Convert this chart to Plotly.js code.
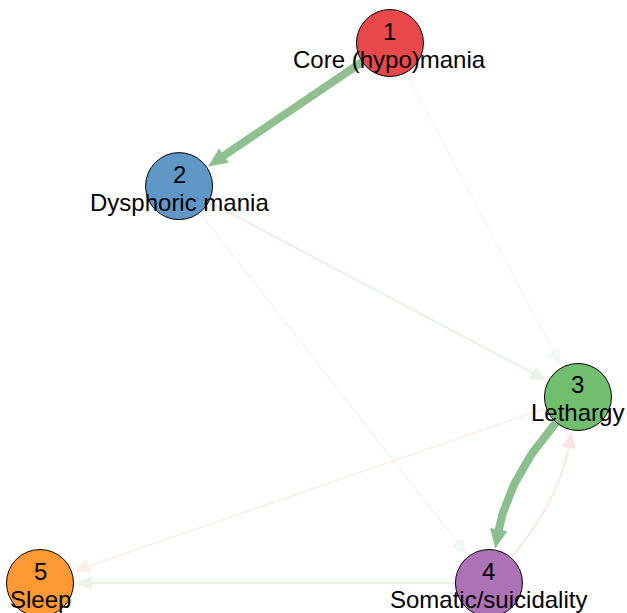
<!DOCTYPE html>
<html>
<head>
<meta charset="utf-8">
<script src="https://cdn.plot.ly/plotly-3.0.1.min.js"></script>
<style>
html,body{margin:0;padding:0;background:#fff;}
#chart{width:627px;height:613px;}
</style>
</head>
<body>
<div id="chart"></div>
<script>
// ---- data ----
const nodeIds = [1, 2, 3, 4, 5];
const nodeLabels = ["Core (hypo)mania", "Dysphoric mania", "Lethargy", "Somatic/suicidality", "Sleep"];
const nodeX = [0.301, -0.483, 1.000, 0.669, -1.000];
const nodeY = [1.000, 0.470, -0.311, -1.000, -1.000];
const nodeColors = ["#E9484A", "#5F98C6", "#71BF6E", "#AD71B5", "#FF9933"];

const edgeFrom   = [1, 1, 2, 2, 3, 3, 4, 4];
const edgeTo     = [2, 3, 3, 4, 4, 5, 3, 5];
const edgeWeight = [0.80, 0.09, 0.16, 0.10, 0.82, -0.10, -0.14, 0.15];

// ---- geometry helpers ----
const W = 627, H = 613;
const xRange = [-1.1487, 1.1822];
const yRange = [-1.1111, 1.1593];
const toPx = (x, y) => [(x - xRange[0]) / (xRange[1] - xRange[0]) * W,
                        (yRange[1] - y) / (yRange[1] - yRange[0]) * H];
const fromPx = (px, py) => [xRange[0] + px / W * (xRange[1] - xRange[0]),
                            yRange[1] - py / H * (yRange[1] - yRange[0])];

const nodeR = 34;          // px
const maxW = Math.max(...edgeWeight.map(Math.abs));
const posBase = [141, 190, 141], negBase = [230, 105, 60];

function edgeColor(w) {
  const a = Math.min(1, Math.abs(w) / maxW);
  const b = w >= 0 ? posBase : negBase;
  const c = b.map(v => Math.round(255 - a * (255 - v)));
  return `rgb(${c[0]},${c[1]},${c[2]})`;
}

const traces = [];
edgeFrom.forEach((f, i) => {
  const t = edgeTo[i], w = edgeWeight[i];
  const si = nodeIds.indexOf(f), ti = nodeIds.indexOf(t);
  const S = toPx(nodeX[si], nodeY[si]), T = toPx(nodeX[ti], nodeY[ti]);
  const hasReverse = edgeFrom.some((ff, j) => ff === t && edgeTo[j] === f);
  const dx = T[0] - S[0], dy = T[1] - S[1], L = Math.hypot(dx, dy);
  const curve = hasReverse ? 28 : 0;
  const C = [(S[0] + T[0]) / 2 - curve * dy / L, (S[1] + T[1]) / 2 + curve * dx / L];
  const u0 = [C[0] - S[0], C[1] - S[1]], l0 = Math.hypot(...u0);
  const u1 = [C[0] - T[0], C[1] - T[1]], l1 = Math.hypot(...u1);
  const P0 = [S[0] + u0[0] / l0 * nodeR, S[1] + u0[1] / l0 * nodeR];
  const tip = [T[0] + u1[0] / l1 * (nodeR + 1), T[1] + u1[1] / l1 * (nodeR + 1)];
  const col = edgeColor(w);
  const lw = 0.6 + 9.2 * Math.abs(w);
  const arrowLen = 16 + 0.4 * lw;
  const hw = 6.3 + 0.3 * lw;
  const dir = [tip[0] - C[0], tip[1] - C[1]], ld = Math.hypot(...dir);
  const ux = dir[0] / ld, uy = dir[1] / ld;
  const base = [tip[0] - ux * arrowLen, tip[1] - uy * arrowLen];
  const P2 = [base[0] + ux * 2, base[1] + uy * 2];
  const Cm = hasReverse ? C : [(P0[0] + P2[0]) / 2, (P0[1] + P2[1]) / 2];
  const xs = [], ys = [];
  const n = hasReverse ? 40 : 2;
  for (let k = 0; k <= n; k++) {
    const s = k / n;
    const px = (1 - s) * (1 - s) * P0[0] + 2 * (1 - s) * s * Cm[0] + s * s * P2[0];
    const py = (1 - s) * (1 - s) * P0[1] + 2 * (1 - s) * s * Cm[1] + s * s * P2[1];
    const d = fromPx(px, py); xs.push(d[0]); ys.push(d[1]);
  }
  traces.push({type: 'scatter', mode: 'lines', x: xs, y: ys,
    line: {color: col, width: lw, shape: 'linear'}, hoverinfo: 'skip', showlegend: false});
  const a1 = fromPx(base[0] - uy * hw, base[1] + ux * hw);
  const a2 = fromPx(base[0] + uy * hw, base[1] - ux * hw);
  const at = fromPx(tip[0], tip[1]);
  traces.push({type: 'scatter', mode: 'lines', x: [at[0], a1[0], a2[0], at[0]], y: [at[1], a1[1], a2[1], at[1]],
    fill: 'toself', fillcolor: col, line: {width: 0, color: col}, hoverinfo: 'skip', showlegend: false});
});

traces.push({type: 'scatter', mode: 'markers', x: nodeX, y: nodeY,
  marker: {size: 67, color: nodeColors, line: {color: '#000', width: 1}, opacity: 1},
  hoverinfo: 'skip', showlegend: false, cliponaxis: false});

const font = {family: 'Liberation Sans, Arial, sans-serif', size: 24, color: '#000'};
const annotations = [];
nodeIds.forEach((id, i) => {
  annotations.push({x: nodeX[i], y: nodeY[i], xref: 'x', yref: 'y', text: String(id),
    showarrow: false, yshift: 12, font: font, xanchor: 'center', yanchor: 'middle'});
  annotations.push({x: nodeX[i], y: nodeY[i], xref: 'x', yref: 'y', text: nodeLabels[i],
    showarrow: false, yshift: -16, font: font, xanchor: 'center', yanchor: 'middle'});
});

const layout = {
  width: W, height: H,
  margin: {l: 0, r: 0, t: 0, b: 0, pad: 0},
  paper_bgcolor: '#fff', plot_bgcolor: '#fff',
  xaxis: {range: xRange, visible: false, showgrid: false, zeroline: false, fixedrange: true},
  yaxis: {range: yRange, visible: false, showgrid: false, zeroline: false, fixedrange: true},
  showlegend: false,
  annotations: annotations
};

Plotly.newPlot('chart', traces, layout, {displayModeBar: false, staticPlot: true});
</script>
</body>
</html>
